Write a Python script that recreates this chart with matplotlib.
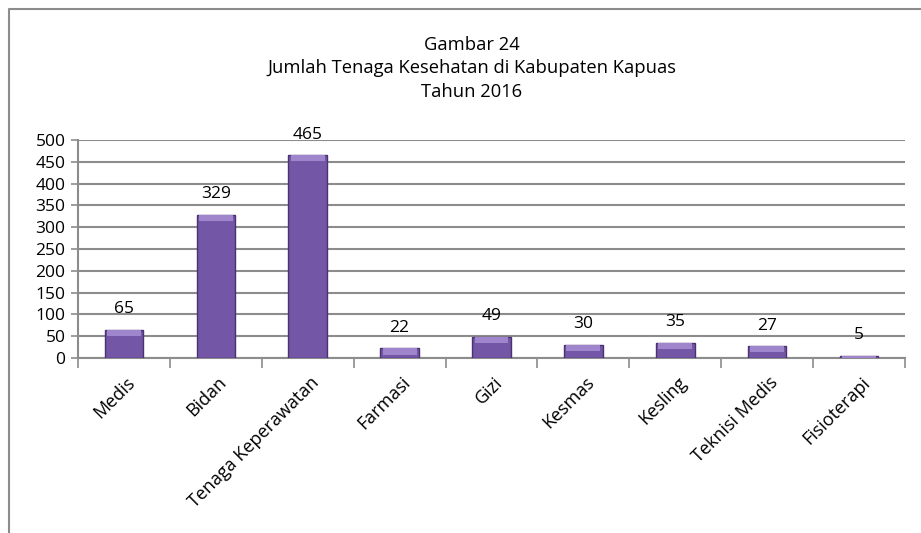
import matplotlib.pyplot as plt
import numpy as np
from matplotlib.lines import Line2D
from matplotlib.transforms import ScaledTranslation

plt.rcParams["font.family"] = ["Open Sans", "DejaVu Sans"]

# Data
categories = ['Medis', 'Bidan', 'Tenaga Keperawatan', 'Farmasi', 'Gizi',
              'Kesmas', 'Kesling', 'Teknisi Medis', 'Fisioterapi']
values = [65, 329, 465, 22, 49, 30, 35, 27, 5]
title_lines = ['Gambar 24', 'Jumlah Tenaga Kesehatan di Kabupaten Kapuas', 'Tahun 2016']

W, H = 921, 533
fig = plt.figure(figsize=(W / 100, H / 100), dpi=100)
ax = fig.add_axes([78 / W, 1 - 358 / H, (905 - 78) / W, (358 - 140) / H])

# outer frame (only left and top edges show in the picture)
fig.lines.append(Line2D([8.5 / W, 8.5 / W, 1.0], [0, 1 - 8.5 / H, 1 - 8.5 / H],
                        transform=fig.transFigure, color='#8c8c8c', linewidth=1.5))

x = np.arange(len(categories))
bars = ax.bar(x, values, width=0.42, color='#7456a6', edgecolor='#4a3270',
              linewidth=1.0, zorder=3)
# light bevel on top of each bar
for b in bars:
    h = min(b.get_height(), 14)
    ax.bar(b.get_x() + b.get_width() / 2, h, bottom=b.get_height() - h,
           width=b.get_width() * 0.88, color='#9f85cc', linewidth=0, zorder=4)

for xi, v in zip(x, values):
    ax.annotate(str(v), (xi, v), xytext=(0, 9), textcoords='offset points',
                ha='center', va='bottom', fontsize=12.5)

ax.set_xlim(-0.5, len(categories) - 0.5)
ax.set_ylim(0, 500)
ax.set_yticks(np.arange(0, 501, 50))
ax.tick_params(axis='y', labelsize=12.5, length=5, color='#8c8c8c', width=1.2, pad=4)
ax.set_xticks(x)
ax.set_xticklabels(categories, rotation=45, ha='right', rotation_mode='anchor', fontsize=13)
ax.tick_params(axis='x', which='major', length=0, pad=11)
shift = ScaledTranslation(2 / 100, 0, fig.dpi_scale_trans)
for lab in ax.get_xticklabels():
    lab.set_transform(lab.get_transform() + shift)
ax.set_xticks(np.arange(-0.5, len(categories), 1), minor=True)
ax.tick_params(axis='x', which='minor', length=7, color='#8c8c8c', width=1.2)

ax.grid(True, axis='y', color='#8c8c8c', linewidth=1.5, zorder=0)
ax.set_axisbelow(True)
for s in ['top', 'right']:
    ax.spines[s].set_visible(False)
for s in ['left', 'bottom']:
    ax.spines[s].set_color('#8c8c8c')
    ax.spines[s].set_linewidth(1.5)

for line, yy in zip(title_lines, [45, 68, 92]):
    fig.text(472 / W, 1 - yy / H, line, ha='center', va='center', fontsize=13.2)

fig.savefig('out.png', dpi=100)
